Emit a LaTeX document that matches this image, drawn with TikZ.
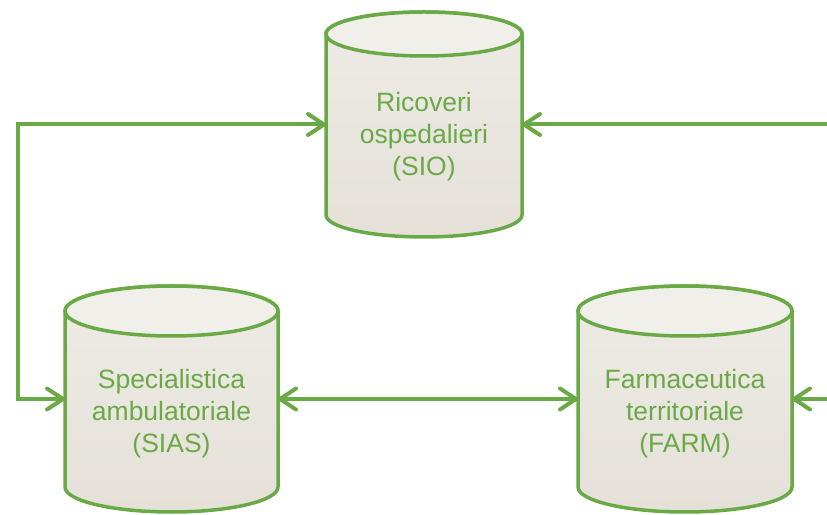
\documentclass[tikz,border=0pt]{standalone}
\usepackage{fontspec}
\setmainfont{Liberation Sans}
\usetikzlibrary{arrows.meta}

\definecolor{lineGreen}{RGB}{106,170,70}
\definecolor{bodyTop}{RGB}{238,235,230}
\definecolor{bodyBot}{RGB}{229,225,217}
\definecolor{capFill}{RGB}{241,239,234}

\tikzset{
  cylbody/.style={draw=lineGreen, line width=3.5, top color=bodyTop, bottom color=bodyBot},
  cylcap/.style={draw=lineGreen, line width=3.5, fill=capFill},
  anchorbox/.style={rectangle, inner sep=0pt, outer sep=0pt},
  dbtext/.style={text=lineGreen, align=center, font=\fontsize{26.5}{32}\selectfont},
  link/.style={draw=lineGreen, line width=4},
  tip/.style={-{Straight Barb[length=16pt, width=21pt, round]}},
  twotips/.style={{Straight Barb[length=16pt, width=21pt, round]}-{Straight Barb[length=16pt, width=21pt, round]}}
}

% database cylinder: name, centre x, centre y, x radius, half height, y radius, text, text drop
\newcommand\dbcyl[8]{%
  \path[cylbody] (#2-#4, #3+#5-#6) -- (#2-#4, #3-#5+#6)
     arc[start angle=180, end angle=360, x radius=#4, y radius=#6]
     -- (#2+#4, #3+#5-#6)
     arc[start angle=0, end angle=180, x radius=#4, y radius=#6] -- cycle;
  \path[cylcap] (#2, #3+#5-#6) ellipse[x radius=#4, y radius=#6];
  \node[anchorbox, minimum width=2*#4 pt, minimum height=2*#5 pt] (#1) at (#2,#3) {};
  \node[dbtext] (#1-text) at (#2, #3-#8) {#7};
}

\begin{document}
\begin{tikzpicture}[x=1pt, y=1pt]
  \useasboundingbox (0,0) rectangle (827,514);

  \dbcyl{sio}{424}{389.5}{98}{112.5}{22}{Ricoveri\\ospedalieri\\(SIO)}{12}
  \dbcyl{sias}{171.5}{115}{106.5}{113}{25}{Specialistica\\ambulatoriale\\(SIAS)}{15}
  \dbcyl{farm}{685}{115}{107}{113}{25}{Farmaceutica\\territoriale\\(FARM)}{15}

  \coordinate (leftbend) at (18,115);
  \coordinate (rightin1) at (827,389.5);
  \coordinate (rightin2) at (827,115);

  \draw[link, twotips] (sias.west) -- (leftbend) |- (sio.west);
  \draw[link, tip] (rightin1) -- (sio.east);
  \draw[link, twotips] (sias.east) -- (farm.west);
  \draw[link, tip] (rightin2) -- (farm.east);
\end{tikzpicture}
\end{document}
